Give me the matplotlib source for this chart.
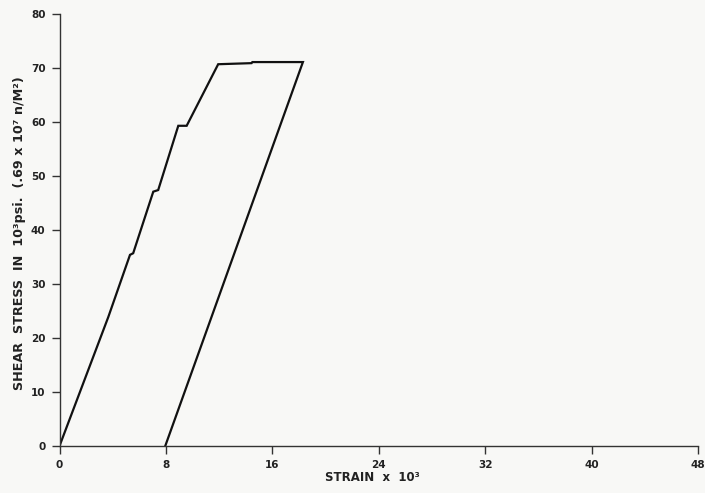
import matplotlib
matplotlib.use("Agg")
import matplotlib.pyplot as plt

# Loading / unloading path (strain x 10^3, shear stress in 10^3 psi)
strain = [0.0, 3.67, 5.30, 5.54, 7.05, 7.42, 8.93, 9.56, 11.93, 14.44, 14.50, 18.30, 7.95]
stress = [0.0, 23.9, 35.4, 35.7, 47.1, 47.4, 59.3, 59.3, 70.7, 70.9, 71.1, 71.1, 0.0]

x_ticks = [0, 8, 16, 24, 32, 40, 48]
x_labels = ["0", "8", "16", "24", "32", "40", "48"]
y_ticks = [0, 10, 20, 30, 40, 50, 60, 70, 80]
y_labels = ["0", "10", "20", "30", "40", "50", "60", "70", "80"]

bg = "#f8f8f6"
fig = plt.figure(figsize=(7.05, 4.93), dpi=100, facecolor=bg)
ax = fig.add_axes([0.0844, 0.0953, 0.9056, 0.8763], facecolor=bg)

ax.plot(strain, stress, color="#111111", lw=1.6, solid_joinstyle="miter")

ax.set_xlim(0, 48)
ax.set_ylim(0, 80)
ax.set_xticks(x_ticks)
ax.set_xticklabels(x_labels, fontsize=7.5, fontweight="bold", color="#222222")
ax.set_yticks(y_ticks)
ax.set_yticklabels(y_labels, fontsize=7.5, fontweight="bold", color="#222222")
ax.tick_params(axis="both", direction="out", length=6, width=1, color="#333333", pad=4)

for s in ["top", "right"]:
    ax.spines[s].set_visible(False)
for s in ["left", "bottom"]:
    ax.spines[s].set_color("#333333")
    ax.spines[s].set_linewidth(1.0)

fig.text(0.528, 0.032, "STRAIN  x  10³", ha="center", va="center",
         fontsize=8.5, fontweight="bold", color="#222222")
fig.text(0.028, 0.527, "SHEAR  STRESS  IN  10³psi.  (.69 x 10⁷ n/M²)",
         rotation=90, ha="center", va="center",
         fontsize=9.2, fontweight="bold", color="#222222")

fig.savefig("out.png", dpi=100, facecolor=bg)
